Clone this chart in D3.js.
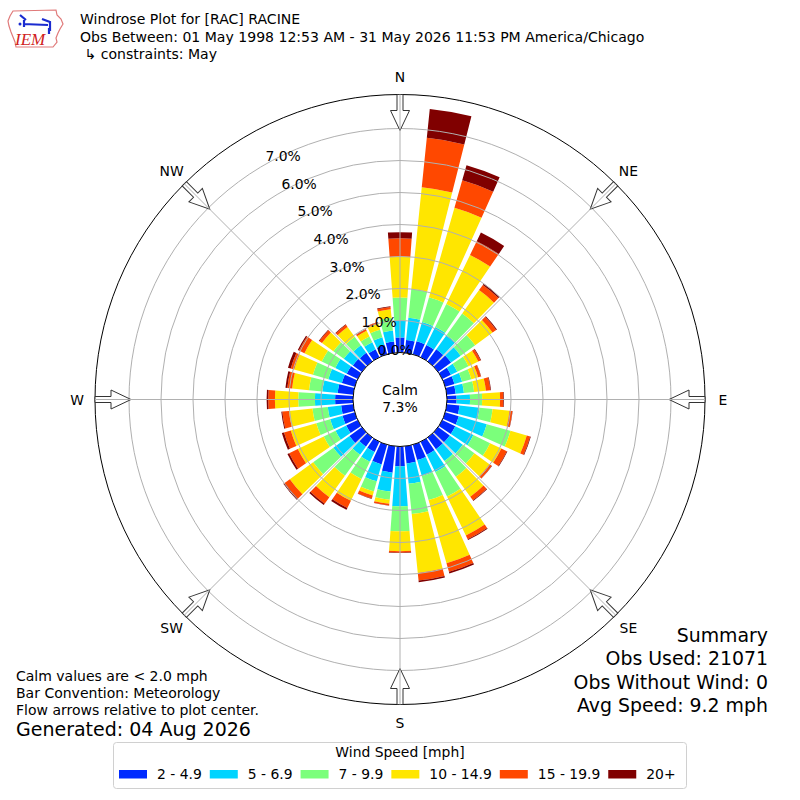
<!DOCTYPE html>
<html><head><meta charset="utf-8">
<script src="https://cdn.jsdelivr.net/npm/d3@7"></script>
<style>body{margin:0;background:#fff}svg{display:block;font-family:"DejaVu Sans",sans-serif}</style>
</head><body><div id="chart"></div>
<script>
// ---------- data ----------
const directions = d3.range(0, 360, 10);
const speedBins = ["2 - 4.9", "5 - 6.9", "7 - 9.9", "10 - 14.9", "15 - 19.9", "20+"];
const binColors = ["#002aff", "#00d4ff", "#7bff7b", "#ffe600", "#ff4800", "#800000"];
const speed2to5 = [0.47,0.40,0.42,0.42,0.47,0.50,0.30,0.30,0.28,0.30,0.40,0.44,0.45,0.45,0.45,0.45,0.50,0.54,0.62,0.83,0.64,0.35,0.35,0.48,0.40,0.40,0.38,0.56,0.49,0.42,0.38,0.35,0.33,0.28,0.30,0.35];
const speed5to7 = [0.53,0.70,0.63,0.63,0.55,0.37,0.22,0.25,0.26,0.42,0.63,0.91,0.63,0.50,0.45,0.60,0.52,0.64,1.25,0.59,0.55,0.34,0.31,0.62,0.37,0.40,0.42,0.63,0.48,0.44,0.40,0.35,0.29,0.24,0.25,0.35];
const speed7to10 = [0.72,0.90,0.80,0.80,0.83,0.56,0.39,0.30,0.32,0.38,0.41,0.77,0.58,0.45,0.61,0.85,0.78,0.95,0.78,0.26,0.33,0.60,0.81,0.78,0.41,0.45,0.48,0.52,0.42,0.50,0.47,0.40,0.33,0.20,0.25,0.40];
const speed10to15 = [1.28,3.20,2.91,1.70,0.90,0.67,0.34,0.22,0.37,0.56,0.53,0.53,0.39,0.58,0.77,1.35,2.05,1.85,0.62,0.13,0.13,0.76,0.83,0.90,0.90,0.83,0.74,0.73,0.53,0.61,0.60,0.44,0.38,0.20,0.20,0.27];
const speed15to20 = [0.57,1.55,0.89,0.48,0.20,0.14,0.08,0.09,0.14,0.10,0.09,0.11,0.19,0.09,0.14,0.13,0.28,0.24,0.05,0.05,0.10,0.25,0.25,0.20,0.30,0.22,0.21,0.21,0.15,0.11,0.19,0.10,0.08,0.05,0.04,0.07];
const speed20plus = [0.19,0.91,0.49,0.30,0.05,0.03,0.02,0.01,0.02,0.02,0.01,0.02,0.02,0.01,0.02,0.03,0.05,0.05,0.01,0.01,0.01,0.06,0.05,0.05,0.06,0.07,0.03,0.05,0.06,0.09,0.04,0.02,0.02,0.01,0.01,0.02];
const rTicks = [0, 1, 2, 3, 4, 5, 6, 7];
const compassLabels = ["N", "NE", "E", "SE", "S", "SW", "W", "NW"];
const calmPct = 7.3;
const titleLines = ["Windrose Plot for [RAC] RACINE",
  "Obs Between: 01 May 1998 12:53 AM - 31 May 2026 11:53 PM America/Chicago",
  " \u21b3 constraints: May"];
const noteLines = ["Calm values are < 2.0 mph", "Bar Convention: Meteorology", "Flow arrows relative to plot center."];
const generatedText = "Generated: 04 Aug 2026";
const summaryLines = ["Summary", "Obs Used: 21071", "Obs Without Wind: 0", "Avg Speed: 9.2 mph"];
const legendTitle = "Wind Speed [mph]";

// ---------- setup ----------
const W = 800, H = 800, cx = 400, cy = 399.5;
const svg = d3.select("#chart").append("svg").attr("width", W).attr("height", H);
svg.append("rect").attr("width", W).attr("height", H).attr("fill", "#fff");

const series = [speed2to5, speed5to7, speed7to10, speed10to15, speed15to20, speed20plus];
const keys = speedBins.map((d, i) => "b" + i);
const table = directions.map((dir, i) => {
  const row = { dir };
  keys.forEach((k, j) => row[k] = series[j][i]);
  return row;
});
const stacked = d3.stack().keys(keys)(table);

const r = d3.scaleLinear().domain([0, 7]).range([47, 271]);
const outerR = 305;
const calmR = r(0);
const rad = d => d * Math.PI / 180;
const halfW = 4.15;

const g = svg.append("g").attr("transform", `translate(${cx},${cy})`);

// bars
const arc = d3.arc()
  .innerRadius(d => r(d[0]))
  .outerRadius(d => r(d[1]))
  .startAngle(d => rad(d.data.dir - halfW))
  .endAngle(d => rad(d.data.dir + halfW));

stacked.forEach((layer, j) => {
  g.append("g").selectAll("path").data(layer).join("path")
    .attr("d", arc).attr("fill", binColors[j]);
});

// ring grid
g.append("g").selectAll("circle").data(rTicks.slice(1)).join("circle")
  .attr("r", d => r(d)).attr("fill", "none").attr("stroke", "#b0b0b0").attr("stroke-width", 1);

// outer circle
g.append("circle").attr("r", outerR).attr("fill", "none").attr("stroke", "#000").attr("stroke-width", 1);

// arrows
const arrowPath = `M-3,${-outerR} L3,${-outerR} L3,-289 L9.5,-289 L0,-269 L-9.5,-289 L-3,-289 Z`;
g.append("g").selectAll("path").data(compassLabels).join("path")
  .attr("d", arrowPath)
  .attr("transform", (d, i) => `rotate(${i * 45})`)
  .attr("fill", "#fff").attr("stroke", "#333").attr("stroke-width", 1).attr("stroke-linejoin", "miter");

// radial lines
g.append("g").selectAll("line").data(compassLabels).join("line")
  .attr("x1", (d, i) => calmR * Math.sin(rad(i * 45))).attr("y1", (d, i) => -calmR * Math.cos(rad(i * 45)))
  .attr("x2", (d, i) => outerR * Math.sin(rad(i * 45))).attr("y2", (d, i) => -outerR * Math.cos(rad(i * 45)))
  .attr("stroke", "#b0b0b0").attr("stroke-width", 1);

// calm circle
g.append("circle").attr("r", calmR).attr("fill", "#fff").attr("stroke", "#000").attr("stroke-width", 1);
g.append("text").attr("x", 0).attr("y", -4.5).attr("text-anchor", "middle").attr("font-size", 14).text("Calm");
g.append("text").attr("x", 0).attr("y", 12.5).attr("text-anchor", "middle").attr("font-size", 14).text(calmPct.toFixed(1) + "%");

// radial labels
const la = rad(-30);
g.append("g").selectAll("text").data(rTicks).join("text")
  .attr("x", d => r(d) * Math.sin(la) + 1)
  .attr("y", d => -r(d) * Math.cos(la) - 4)
  .attr("font-size", 13.9).text(d => d.toFixed(1) + "%");

// compass labels
g.append("g").selectAll("text").data(compassLabels).join("text")
  .attr("x", (d, i) => 323 * Math.sin(rad(i * 45)))
  .attr("y", (d, i) => -323 * Math.cos(rad(i * 45)))
  .attr("text-anchor", "middle").attr("dominant-baseline", "central")
  .attr("font-size", 13.9).text(d => d);

// title
svg.append("g").selectAll("text").data(titleLines).join("text")
  .attr("x", 80).attr("y", (d, i) => 24 + i * 17.5)
  .attr("font-size", 14.05).style("white-space", "pre").text(d => d);

// logo
const logo = svg.append("g");
logo.append("path")
  .attr("d", "M13,11 L56,10 L57,15 L61,19 L63,24 L60,29 L58,33 L56,38 L57,42 L53,47 L16,47 L15,42 L13,37 L11,32 L9,26 L8,21 L10,16 Z")
  .attr("fill", "none").attr("stroke", "#e07a7a").attr("stroke-width", 1.2);
logo.append("path").attr("d", "M20,15 L26,20 M24,20 L24,27 M23,24 L48,25 M42,19 L50,22 L50,31 M49,28 L49,34")
  .attr("fill", "none").attr("stroke", "#1a2bd0").attr("stroke-width", 2.2);
logo.append("circle").attr("cx", 20).attr("cy", 24).attr("r", 1.5).attr("fill", "#1a2bd0");
logo.append("text").attr("x", 15).attr("y", 45).attr("font-family", "Liberation Serif, serif")
  .attr("font-style", "italic").attr("font-size", 17).attr("fill", "#d02020").text("IEM");

// notes
svg.append("g").selectAll("text").data(noteLines).join("text")
  .attr("x", 16).attr("y", (d, i) => 681 + i * 17).attr("font-size", 14).text(d => d);
svg.append("text").attr("x", 16).attr("y", 736).attr("font-size", 19).text(generatedText);

// summary
svg.append("g").selectAll("text").data(summaryLines).join("text")
  .attr("x", 768).attr("y", (d, i) => 642 + i * 23.3).attr("text-anchor", "end")
  .attr("font-size", 18.9).text(d => d);

// legend
const lg = svg.append("g");
lg.append("rect").attr("x", 113.5).attr("y", 742.5).attr("width", 573).attr("height", 46)
  .attr("rx", 3).attr("fill", "#fff").attr("stroke", "#d0d0d0").attr("stroke-width", 1);
lg.append("text").attr("x", 400).attr("y", 757).attr("text-anchor", "middle").attr("font-size", 13.9).text(legendTitle);
let lx = 119;
speedBins.forEach((lab, i) => {
  lg.append("rect").attr("x", lx).attr("y", 770).attr("width", 28).attr("height", 8.5).attr("fill", binColors[i]);
  const t = lg.append("text").attr("x", lx + 38).attr("y", 779).attr("font-size", 13.9).text(lab);
  lx = lx + 38 + t.node().getComputedTextLength() + 8;
});
</script></body></html>
